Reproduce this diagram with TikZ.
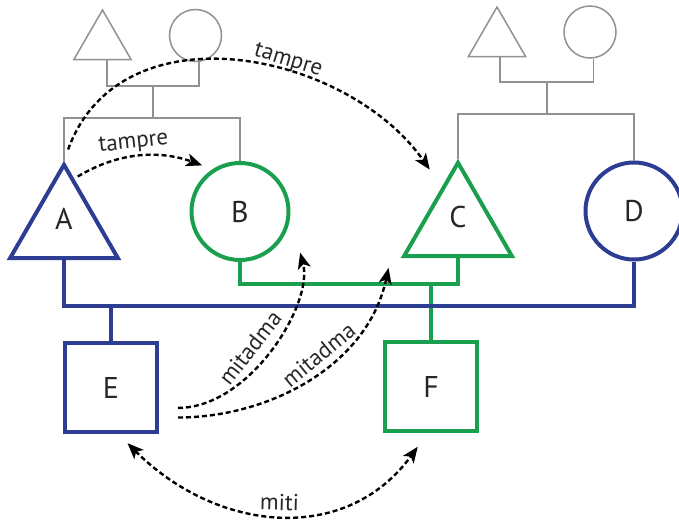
\documentclass[tikz,border=0pt]{standalone}
\usepackage{fontspec}
\setmainfont{PT Sans}
\usepackage{xcolor}
\usepackage{tikz}
\usetikzlibrary{shapes.geometric, arrows.meta}
\definecolor{kinblue}{RGB}{45,62,146}
\definecolor{kingreen}{RGB}{26,159,79}
\definecolor{kingray}{RGB}{145,145,145}
\definecolor{kintext}{RGB}{40,38,40}

\begin{document}
\begin{tikzpicture}[x=1pt, y=1pt,
    male/.style={regular polygon, regular polygon sides=3, draw, line width=4pt, minimum size=124pt, text=kintext, font=\fontsize{30}{34}\selectfont},
    female/.style={circle, draw, line width=4pt, minimum size=97pt, text=kintext, font=\fontsize{30}{34}\selectfont},
    child/.style={rectangle, draw, line width=4pt, minimum width=92pt, minimum height=89pt, text=kintext, font=\fontsize{30}{34}\selectfont},
    oldmale/.style={regular polygon, regular polygon sides=3, draw=kingray, line width=1.5pt, minimum size=66pt},
    oldfemale/.style={circle, draw=kingray, line width=1.5pt, minimum size=52pt},
    grayline/.style={kingray, line width=1.5pt},
    blueline/.style={kinblue, line width=4pt},
    greenline/.style={kingreen, line width=4pt},
    rel/.style={dash pattern=on 5pt off 3pt, line width=2.4pt},
    lbl/.style={text=kintext, font=\fontsize{23}{26}\selectfont, sloped, above, inner sep=3pt},
    >={Stealth[length=16pt, width=13pt, inset=4pt]}]
    \useasboundingbox (0,0) rectangle (679,-520);

    \node[oldmale] (gpa1) at (102.5,-43) {};
    \node[oldfemale] (gma1) at (195.5,-35.5) {};
    \node[oldmale] (gpa2) at (497,-40) {};
    \node[oldfemale] (gma2) at (590,-32) {};

    \node[male, draw=kinblue] (A) at (64,-227) {\raisebox{16pt}{A}};
    \node[female, draw=kingreen] (B) at (240,-211.5) {B};
    \node[male, draw=kingreen] (C) at (458,-225) {\raisebox{16pt}{C}};
    \node[female, draw=kinblue] (D) at (634,-211) {D};
    \node[child, draw=kinblue] (E) at (111,-387.5) {E};
    \node[child, draw=kingreen] (F) at (431,-386.5) {F};

    \coordinate (m1) at (153,-86);
    \coordinate (s1) at (153,-118);
    \coordinate (m2) at (547,-82);
    \coordinate (s2) at (547,-114);
    \coordinate (u1) at (111,-306);
    \coordinate (u2) at (431,-284);

    \draw[grayline] (gpa1.-75) |- (m1) -| (gma1.-82);
    \draw[grayline] (m1) -- (s1);
    \draw[grayline] (A.90) |- (s1) -| (B.90);
    \draw[grayline] (gpa2.-80) |- (m2) -| (gma2.-83);
    \draw[grayline] (m2) -- (s2);
    \draw[grayline] (C.90) |- (s2) -| (D.90);

    \draw[greenline] (B.-90) |- (u2) -| (C.-90);
    \draw[greenline] (u2) -- (F.90);
    \draw[blueline] (A.-90) |- (u1) -| (D.-90);
    \draw[blueline] (u1) -- (E.90);

    \draw[rel, ->, shorten <=4pt, shorten >=11pt] (A.78) to[out=31, in=160] node[lbl, pos=0.45] {tampre} (B.123);
    \draw[rel, ->, shorten <=12pt, shorten >=21pt] (A.90) to[out=70, in=125, looseness=1.12] node[lbl, pos=0.6] {tampre} (C.113);
    \draw[rel, ->, shorten <=19pt, shorten >=38pt] (E.-23) to[out=0, in=-75] node[lbl, pos=0.45] {mitadma} (B.-5);
    \draw[rel, ->, shorten <=19pt, shorten >=10pt] (E.-32) to[out=0, in=-102] node[lbl, pos=0.58] {mitadma} ([xshift=-10pt]C.-150);
    \draw[rel, <->, shorten <=13pt, shorten >=17pt] (E.-81) to[out=-45, in=-126, looseness=1.15] node[lbl, pos=0.5, inner sep=1pt] {miti} (F.-94);
\end{tikzpicture}
\end{document}
